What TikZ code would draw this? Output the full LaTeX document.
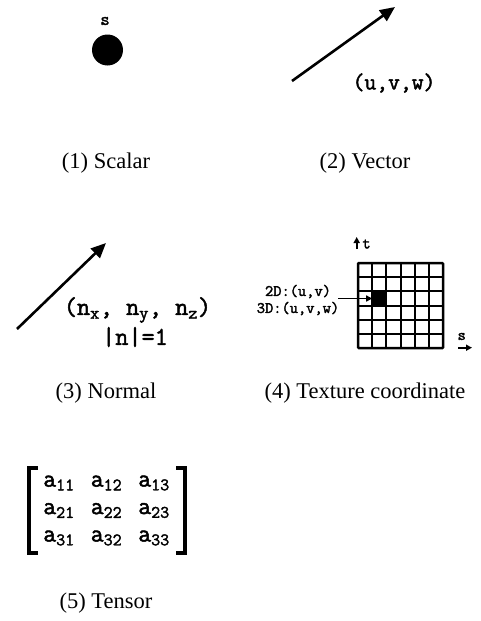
\documentclass[tikz,border=0pt]{standalone}
\usepackage{fontspec}
\setmainfont{Liberation Serif}
\newfontfamily\cour{Latin Modern Mono}[FakeBold=2]
\usetikzlibrary{arrows.meta}
\tikzset{
  captext/.style={font=\fontsize{22.5}{26}\selectfont, anchor=base, inner sep=0pt},
  mono/.style={font=\cour\fontsize{#1}{#1}\selectfont, inner sep=0pt},
  bigarrow/.style={line width=2.6pt, -{Triangle[length=15pt,width=13pt]}},
  smallarrow/.style={line width=1.6pt, -{Triangle[length=6pt,width=6pt]}},
  gridline/.style={line width=2pt},
  bracket/.style={line width=3.3pt},
}
\begin{document}
\begin{tikzpicture}[x=1pt,y=-1pt]
\useasboundingbox (0,0) rectangle (480,621);
% (1) Scalar
\node[mono=18] (slab) at (105,21) {s};
\node[circle, fill=black, minimum size=31pt, inner sep=0pt] (dot) at (107.5,50) {};
\node[captext] (c1) at (106,168) {(1) Scalar};
% (2) Vector
\coordinate (v0) at (292,81);
\coordinate (v1) at (395,7);
\draw[bigarrow] (v0) -- (v1);
\node[mono=23] (uvw) at (394,83) {(u,v,w)};
\node[captext] (c2) at (365,168) {(2) Vector};
% (3) Normal
\coordinate (n0) at (17,329);
\coordinate (n1) at (106,243);
\draw[bigarrow] (n0) -- (n1);
\node[mono=25.5] (nxyz) at (137.5,310) {(n\textsubscript{x}, n\textsubscript{y}, n\textsubscript{z})};
\node[mono=25.5] (norm) at (135,337) {|n|=1};
\node[captext] (c3) at (106,398) {(3) Normal};
% (4) Texture coordinate
\node[fill=black, minimum size=14.2pt, inner sep=0pt, outer sep=0pt] (cell) at (379.3,298.5) {};
\foreach \i in {1,...,5} {
  \draw[gridline] ({358+\i*14.2},263) -- ({358+\i*14.2},348.2);
  \draw[gridline] (358,{263+\i*14.2}) -- (443.2,{263+\i*14.2});
}
\draw[line width=2.5pt, rounded corners=1pt] (358,263) rectangle (443.2,348.2);
\node[mono=16] (l2d) at (298,291.5) {2D:(u,v)};
\node[mono=16] (l3d) at (298,308.5) {3D:(u,v,w)};
\coordinate (a0) at (338,298.5);
\draw[smallarrow] (a0) -- (cell.west);
\coordinate (t0) at (356.7,249);
\coordinate (t1) at (356.7,237);
\draw[smallarrow] (t0) -- (t1);
\node[mono=16] (tlab) at (366.5,244) {t};
\coordinate (s0) at (458,347.7);
\coordinate (s1) at (472,347.7);
\draw[smallarrow] (s0) -- (s1);
\node[mono=16] (slab2) at (461.7,336.5) {s};
\node[captext] (c4) at (365,398) {(4) Texture coordinate};
% (5) Tensor
\draw[bracket] (38,468) -- (29,468) -- (29,553) -- (38,553);
\draw[bracket] (176,468) -- (185,468) -- (185,553) -- (176,553);
\foreach \r in {1,2,3} {
  \foreach \c in {1,2,3} {
    \node[mono=25] (a\r\c) at ({59+(\c-1)*47.5},{483+(\r-1)*27.5}) {a\textsubscript{\r\c}};
  }
}
\node[captext] (c5) at (106,608) {(5) Tensor};
\end{tikzpicture}
\end{document}
